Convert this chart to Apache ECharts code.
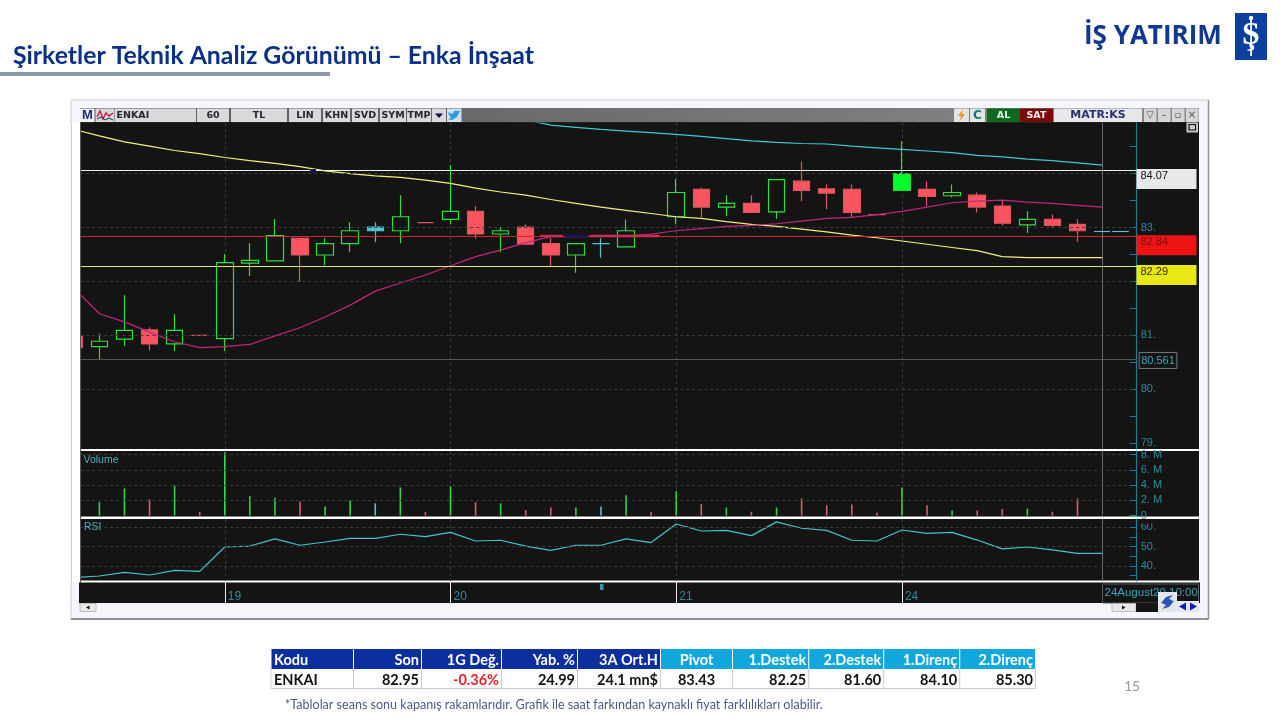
<!DOCTYPE html>
<html><head><meta charset="utf-8">
<style>html,body{margin:0;padding:0;background:#fff}#c{width:1280px;height:720px}</style>
<script src="https://cdn.jsdelivr.net/npm/echarts@6/dist/echarts.min.js"></script>
</head><body><div id="c"></div>
<script>
// ---------- data ----------
const dayLabels = {6:'19',15:'20',24:'21',33:'24'};
const categories = Array.from({length:46},(_,k)=>dayLabels[k]||'');
const candleOpen  = [81.00,80.79,80.93,81.10,80.84,81.00,80.94,82.34,82.38,82.80,82.49,82.70,82.94,82.94,83.09,83.15,83.30,82.88,83.01,82.70,82.49,82.70,82.64,82.85,83.20,83.71,83.38,83.45,83.29,83.86,83.72,83.71,83.24,83.69,83.71,83.59,83.60,83.40,83.05,83.15,83.06];
const candleClose = [80.77,80.89,81.09,80.84,81.09,81.00,82.35,82.39,82.85,82.49,82.70,82.94,83.01,83.20,83.09,83.30,82.88,82.94,82.69,82.49,82.70,82.70,82.94,82.85,83.65,83.38,83.45,83.28,83.89,83.69,83.64,83.28,83.24,84.00,83.58,83.65,83.38,83.08,83.15,83.04,82.94];
const candleLow   = [80.77,80.55,80.80,80.72,80.71,81.00,80.71,82.10,82.38,81.99,82.30,82.54,82.73,82.71,83.09,83.06,82.79,82.54,82.69,82.28,82.16,82.44,82.64,82.85,83.06,83.19,83.21,83.28,83.16,83.49,83.34,83.19,83.24,83.69,83.40,83.56,83.28,83.04,82.90,82.99,82.73];
const candleHigh  = [81.00,81.03,81.75,81.15,81.39,81.00,82.51,82.71,83.16,82.80,82.80,83.10,83.10,83.60,83.09,84.16,83.40,83.01,83.06,82.81,82.70,82.80,83.15,82.85,83.90,83.74,83.60,83.60,83.89,84.22,83.80,83.80,83.24,84.60,83.86,83.80,83.65,83.51,83.30,83.24,83.16];
const maYellow = [84.82,84.70,84.59,84.51,84.43,84.37,84.30,84.24,84.19,84.13,84.05,84.00,83.96,83.93,83.88,83.82,83.73,83.66,83.60,83.52,83.45,83.38,83.32,83.26,83.20,83.17,83.11,83.06,83.02,82.97,82.92,82.86,82.81,82.75,82.69,82.63,82.57,82.46,82.44,82.44,82.44,82.44];
const maPink   = [81.87,81.40,81.25,81.06,80.88,80.77,80.79,80.83,80.99,81.14,81.34,81.56,81.82,81.97,82.12,82.29,82.46,82.58,82.72,82.83,82.83,82.84,82.84,82.88,82.94,82.98,83.02,83.04,83.07,83.12,83.17,83.19,83.24,83.30,83.38,83.46,83.49,83.51,83.47,83.45,83.41,83.38];
const maCyan   = [null,null,null,null,null,null,null,null,null,null,null,null,null,null,null,null,null,null,85.00,84.90,84.86,84.82,84.79,84.76,84.73,84.69,84.65,84.61,84.58,84.56,84.55,84.51,84.48,84.45,84.42,84.39,84.34,84.31,84.27,84.24,84.20,84.16];
const volumeM  = [null,1.75,3.55,2.1,3.95,0.5,8.3,2.55,2.35,1.85,1.2,2.0,1.6,3.7,0.45,3.85,1.75,1.6,0.7,1.05,1.05,1.2,2.65,0.45,3.2,1.5,1.05,0.5,1.05,2.25,1.35,1.45,0.35,3.7,1.35,0.65,0.65,0.85,0.9,0.5,2.25];
const rsiValues = [33.9,34.8,36.7,35.3,37.7,37.2,49.8,50.3,54.0,50.7,52.4,54.3,54.3,56.4,55.2,57.4,52.9,53.3,50.3,48.1,50.7,50.7,54.0,52.1,61.7,58.1,58.4,55.7,62.8,59.5,58.4,53.3,52.9,58.6,56.9,57.4,53.4,48.8,49.8,48.3,46.5,46.5];
const cyanCandles = [12,21];
const solidGreenCandles = [33];
const priceTicks = [79,79.5,80,80.5,81,81.5,82,82.5,83,83.5,84,84.5];
const priceLabels = [79,80,81,83];
const priceGuides = [80,81,82,83,84];
const volumeTicks = [0,2,4,6,8];
const rsiTicks = [35,40,45,50,55,60];
const rsiLabels = [40,50,60];
const levelLast = 84.07, levelRed = 82.84, levelYellow = 82.29, levelGray = 80.561, lastPrice = 82.94;
const tableHeaders = ['Kodu','Son','1G Değ.','Yab. %','3A Ort.H','Pivot','1.Destek','2.Destek','1.Direnç','2.Direnç'];
const tableRow = ['ENKAI','82.95','-0.36%','24.99','24.1 mn$','83.43','82.25','81.60','84.10','85.30'];
const titleText = 'Şirketler Teknik Analiz Görünümü – Enka İnşaat';
const footnote = '*Tablolar seans sonu kapanış rakamlarıdır. Grafik ile saat farkından kaynaklı fiyat farklılıkları olabilir.';

// ---------- layout ----------
const GL=74.3, STEP=25.08, GW=STEP*45, AXISX=1136.7, AXK=(AXISX-GL)/STEP;
const BG='#141414', GREEN='#2fe03a', RED='#f9545f', RED2='#e0565c', CY='#4fc6d2', TEAL='#2d8ba0', AXC='#1d7f90', DASH='#3d3d3d';
const colX=[271,353.5,421.5,501.5,577.5,660.5,732.5,808.7,883.7,959.7,1035.5];

const R=(x,y,w,h,fill,z,extra)=>Object.assign({type:'rect',z:z||0,silent:true,shape:{x,y,width:w,height:h},style:{fill}},extra||{});
const T=(text,x,y,font,fill,align,z)=>({type:'text',z:z||1,silent:true,style:{text,x,y,font,fill,align:align||'left',verticalAlign:'middle',textAlign:align||'left',textVerticalAlign:'middle'}});
const L=(x1,y1,x2,y2,stroke,w,z)=>({type:'line',z:z||1,silent:true,shape:{x1,y1,x2,y2},style:{stroke,lineWidth:w||1}});

const under=[], over=[];
// page + window
under.push(R(0,0,1280,720,'#ffffff',-20));
under.push(T(titleText,13,56,'bold 24.8px Lato','#0a3187','left',-10));
under.push(R(0,72,330,4,'#8a97a8',-10));
under.push(T('İŞ YATIRIM',1084,36.5,'bold 26px "Open Sans"','#10398f','left',-10));
under.push(R(1235,13,32,47,'#0d3f9f',-10));
under.push(T('Ş',1251,36,'bold 32px "Liberation Serif"','#ffffff','center',-9));
under.push(R(1250.2,20,1.8,36,'#ffffff',-9));
under.push({type:'circle',z:-9,silent:true,shape:{cx:1251,cy:18,r:2.2},style:{fill:'#ffffff'}});
under.push(R(71,100,1137.5,519.5,'#f4f6fb',-15,{style:{fill:'#f4f6fb',stroke:'#c9ccd2',lineWidth:1}}));
under.push(L(71,619,1208.5,619,'#8f9399',2,-14));
under.push(L(1208.5,100,1208.5,619,'#8f9399',1.5,-14));
// panels
under.push(R(79.5,122,1120,461,'#ffffff',-13));
under.push(R(81,123,1118,326,BG,-12));
under.push(R(81,451,1118,65.5,BG,-12));
under.push(R(81,519,1118,61.5,BG,-12));
under.push(R(79,582.5,1121,20.5,BG,-12));
// toolbar
under.push(R(80,108,1119,14.5,'#6a6a6a',-12,{style:{fill:new echarts.graphic.LinearGradient(0,0,1,0,[{offset:0,color:'#585858'},{offset:1,color:'#8a8a8a'}])}}));
under.push(L(80,122.5,1199,122.5,'#222222',1,-11));
const tbF='bold 9.5px "DejaVu Sans"', tbC='#23262b';
[[115,81,'ENKAI','left'],[197,32,'60','center'],[231,56,'TL','center'],[289,32,'LIN','center'],[323,27,'KHN','center'],[352,26,'SVD','center'],[380,26,'SYM','center'],[407,24,'TMP','center']].forEach(b=>{
  under.push(R(b[0],108.5,b[1],13.5,'#d9d9dc',-10));
  under.push(T(b[2],b[3]==='left'?b[0]+1.5:b[0]+b[1]/2,115.5,tbF,tbC,b[3],-9));
});
under.push(R(80,108.5,14.5,13.5,'#f2f2f6',-10));
under.push(T('M',87.3,115.5,'bold 13px "Liberation Sans"','#1b2a7a','center',-9));
under.push(R(95.5,108.5,19,13.5,'#d9d9dc',-10));
under.push({type:'polyline',z:-9,silent:true,shape:{points:[[97,117],[100,111],[103,119],[106,113],[109,116],[113,113]]},style:{stroke:'#c8202a',fill:'none',lineWidth:1.4}});
under.push({type:'polyline',z:-9,silent:true,shape:{points:[[97,119],[101,117],[105,120],[109,118],[113,120]]},style:{stroke:'#1b2a7a',fill:'none',lineWidth:1}});
under.push(R(432,108.5,14,13.5,'#d9d9dc',-10));
under.push({type:'polygon',z:-9,silent:true,shape:{points:[[435,113.5],[443,113.5],[439,118]]},style:{fill:'#10103a'}});
under.push(R(447,108.5,14.5,13.5,'#cfe3ef',-10));
under.push({type:'polygon',z:-9,silent:true,shape:{points:[[448,112],[452,114],[455,110.5],[459,111],[460.5,110.5],[459,113],[457,117],[452,120],[448,119.5],[451,118],[449,115]]},style:{fill:'#2f9ee0'}});
under.push(R(954,108.5,15,13.5,'#e4e4e4',-10));
under.push({type:'polygon',z:-9,silent:true,shape:{points:[[963,109.5],[958,116],[961,116],[959.5,121],[965,114],[962,114]]},style:{fill:'#e69a15'}});
under.push(R(970,108.5,15,13.5,'#dfe8e6',-10));
under.push(T('C',977.5,115.5,'bold 12px "DejaVu Sans"','#0d7a68','center',-9));
under.push(R(987,108.5,33,13.5,'#0c6a1f',-10));
under.push(T('AL',1003.5,115.5,'bold 9.5px "DejaVu Sans"','#e8f5e8','center',-9));
under.push(R(1020,108.5,33,13.5,'#7d0a0a',-10));
under.push(T('SAT',1036.5,115.5,'bold 9.5px "DejaVu Sans"','#f8e8e8','center',-9));
under.push(R(1054,108.5,88,13.5,'#e8e8ea',-10));
under.push(T('MATR:KS',1098,115.5,'bold 11px "DejaVu Sans"','#26306e','center',-9));
[1144,1158,1172,1186].forEach((x,i)=>{
  under.push(R(x,108.5,12.5,13.5,'#d4d6d8',-10));
  under.push(T(['▽','–','▫','×'][i],x+6,115.5,'10px "DejaVu Sans"','#555','center',-9));
});
// covers and pieces above the plots
over.push(R(60,123,20.5,459,'#ffffff',50));
over.push(L(71.5,123,71.5,582,'#c9ccd2',1,51));
over.push(L(80.5,122,80.5,583,'#555555',1,51));
over.push(R(1139,519,24,4.5,BG,50));
over.push(R(1186.5,122.5,11.5,10,'#c8c8c8',52));
over.push(R(1189,124.5,6.5,5.5,'#c8c8c8',53,{style:{fill:'#c8c8c8',stroke:'#111',lineWidth:1.2}}));
// date strip
over.push(R(600,584,3.5,6,'#2b98b0',50));
over.push(R(1102.5,584,96,19,'none',50,{style:{fill:'none',stroke:'#4b5a60',lineWidth:1}}));
over.push(T('24August20 10:00',1104.5,593,'11.5px "Liberation Sans"','#3ba6ba','left',51));
// scrollbars
over.push(R(80,603.5,16,8,'#e9e9ea',50,{style:{fill:'#e9e9ea',stroke:'#a8a8a8',lineWidth:.7}}));
over.push({type:'polygon',z:51,silent:true,shape:{points:[[89.5,605.5],[86,607.5],[89.5,609.5]]},style:{fill:'#111'}});
over.push(R(1112,603.5,24,8,'#e9e9ea',50,{style:{fill:'#e9e9ea',stroke:'#a8a8a8',lineWidth:.7}}));
over.push({type:'polygon',z:51,silent:true,shape:{points:[[1122,605.5],[1125.5,607.5],[1122,609.5]]},style:{fill:'#111'}});
over.push(R(1136,603,23,9,'#141414',50));
over.push(R(1158,592,19,20,'#e4e6ec',52));
over.push({type:'polygon',z:53,silent:true,shape:{points:[[1161,603],[1166,597],[1173,595],[1169,599],[1172,600],[1165,604]]},style:{fill:'#2a55b5'}});
over.push({type:'polygon',z:53,silent:true,shape:{points:[[1174,601],[1169,607],[1162,609],[1166,605],[1163,604],[1170,600]]},style:{fill:'#2a55b5'}});
over.push(R(1177,601,22,11,'#e4e6ec',52));
over.push({type:'polygon',z:53,silent:true,shape:{points:[[1186,602.5],[1179,606.5],[1186,610.5]]},style:{fill:'#0d1fb5'}});
over.push({type:'polygon',z:53,silent:true,shape:{points:[[1190,602.5],[1197,606.5],[1190,610.5]]},style:{fill:'#0d1fb5'}});
over.push(T('Volume',83.5,460,'10.5px "Liberation Sans"','#48b5bf','left',51));
over.push(T('RSI',84,527.5,'10.5px "Liberation Sans"','#48b5bf','left',51));
// table
tableHeaders.forEach((h,i)=>{
  const x=colX[i], w=colX[i+1]-x, cx=x+w/2, rx=colX[i+1]-2.5;
  under.push(R(x+.5,649,w-1,20,i<5?'#0b2f9e':'#10a8dc',-10));
  const leftAlign=i===0, centered=i===5;
  const hx=leftAlign?x+3:centered?cx:rx, a=leftAlign?'left':centered?'center':'right';
  under.push(T(h,hx,660,'bold 14.5px Lato','#ffffff',a,-9));
  under.push(T(tableRow[i],hx,680,'bold 14.5px Lato',i===2?'#e3222a':'#111111',a,-9));
  under.push(L(x,669,x,688.5,'#c9ccd0',1,-9));
});
under.push(L(1035.5,669,1035.5,688.5,'#c9ccd0',1,-9));
under.push(L(271,688.5,1035.5,688.5,'#c9ccd0',1,-9));
under.push(T(footnote,285,704.5,'12.55px Lato','#4a5a80','left',-9));
under.push(T('15',1132,686,'14px Lato','#9a9a9a','center',-9));

// ---------- series pieces ----------
const candleData = candleOpen.map((o,k)=>{
  const item={value:[o,candleClose[k],candleLow[k],candleHigh[k]]};
  if(cyanCandles.includes(k)) item.itemStyle={color:CY,color0:CY,borderColor:CY,borderColor0:CY,borderColorDoji:CY};
  if(solidGreenCandles.includes(k)) item.itemStyle={color:'#00ff2a',borderColor:'#22dd33'};
  return item;
});
const volColor = k=>cyanCandles.includes(k)?CY:(candleClose[k]>candleOpen[k]?'#35d543':'#d9606a');
const volumeData = volumeM.map((v,k)=>({value:v,itemStyle:{color:volColor(k)}}));
const seg=(x1,x2,y,color,width,type)=>[{xAxis:x1,yAxis:y,lineStyle:{color,width,type:type||'solid'}},{xAxis:x2,yAxis:y}];
const markBase={silent:true,symbol:'none',animation:false,label:{show:false},emphasis:{disabled:true}};
const vLine={xAxis:41,lineStyle:{color:'#6a6a6a',width:1,type:'solid'}};
const dashed=(list,xAx)=>list.map(v=>seg(0,xAx,v,DASH,1,[3,3]));

const levelSeries={type:'line',xAxisIndex:3,yAxisIndex:0,z:2,data:[],showSymbol:false,markLine:Object.assign({},markBase,{data:[
  ...priceGuides.map(v=>seg(0,AXK,v,DASH,1,[3,3])),
  seg(0,AXK,levelGray,'#555555',1),
  seg(0,AXK,levelLast,'#f0f0f0',1.2),
  seg(0,AXK,levelRed,'#c92a2a',1.1),
  seg(0,AXK,levelYellow,'#e4e46a',1.1)
]})};
const overlaySeries={type:'line',xAxisIndex:3,yAxisIndex:0,z:6,data:[],showSymbol:false,markLine:Object.assign({},markBase,{data:[
  seg(18.57,19.48,levelRed,'#cf2a55',2.4),
  seg(20.56,23.27,levelRed,'#cf2a55',2.4),
  seg(19.56,20.47,levelRed,'#15155a',2.4),
  seg(9.4,9.64,levelLast,'#15155a',3),
  seg(40.66,41.3,lastPrice,CY,1.1),
  seg(41.38,42.05,lastPrice,CY,1.1)
]})};
const tagBase={color:'#111',fontSize:11,fontFamily:'"Liberation Sans"',lineHeight:14,align:'left',verticalAlign:'top',width:56,height:20,padding:[0,0,0,4],opacity:1};
const tagData=[
  {value:[AXK,levelLast],label:Object.assign({},tagBase,{show:true,position:[.3,-.3],formatter:'84.07',backgroundColor:'#e8e8e8',color:'#111'})},
  {value:[AXK,levelRed],label:Object.assign({},tagBase,{show:true,position:[.3,-.3],formatter:'82.84',backgroundColor:'#ee1414',color:'#7a1212'})},
  {value:[AXK,levelYellow],label:Object.assign({},tagBase,{show:true,position:[.3,-.3],formatter:'82.29',backgroundColor:'#e8e812',color:'#2a2a10'})},
  {value:[AXK,levelGray],label:{show:true,position:[3,-6],formatter:'80.561',color:'#3ba6ba',fontSize:11,fontFamily:'"Liberation Sans"',borderColor:'#6d7c80',borderWidth:1,padding:[3,2,2,2],align:'left',verticalAlign:'top',opacity:1}}
];
const tagSeries={type:'scatter',xAxisIndex:3,yAxisIndex:0,z:7,symbolSize:1,itemStyle:{color:'rgba(0,0,0,0)',opacity:1},data:tagData,silent:true,clip:false};

const lineS=(data,color,z,xi,yi,w)=>({type:'line',data,xAxisIndex:xi,yAxisIndex:yi,z:z,showSymbol:false,symbol:'none',connectNulls:false,smooth:false,silent:true,lineStyle:{color,width:w||1.1},clip:true});

const dayIdx=(i)=>!!dayLabels[i];
const catAxis=(gridIndex,isBottom)=>({type:'category',gridIndex,data:categories,boundaryGap:false,
  axisLine:{show:false},
  axisTick:isBottom?{show:true,interval:(i)=>dayIdx(i),length:22,lineStyle:{color:'#e8e8e8',width:1}}:{show:false},
  axisLabel:isBottom?{show:true,interval:0,color:'#2d8ba0',fontSize:12,fontFamily:'"Liberation Sans"',align:'left',margin:10,padding:[0,0,0,3],formatter:v=>v}:{show:false},
  splitLine:{show:true,interval:(i)=>dayIdx(i),lineStyle:{color:'#3d3d3d',type:[3,3],width:1}}});
const valAxis=(gridIndex,min,max,ticks,labels,fmt)=>({type:'value',gridIndex,position:'right',offset:-(GL+GW-AXISX),min,max,scale:true,
  axisLine:{show:true,onZero:false,lineStyle:{color:AXC,width:1.2}},
  axisTick:{show:true,inside:true,length:7,customValues:ticks,lineStyle:{color:AXC,width:1}},
  axisLabel:{show:true,customValues:labels,formatter:fmt,color:TEAL,fontSize:11,fontFamily:'"Liberation Sans"',margin:4,hideOverlap:false,showMinLabel:true,showMaxLabel:true},
  splitLine:{show:false}});

const option={
  animation:false,
  backgroundColor:'#ffffff',
  textStyle:{fontFamily:'"Liberation Sans"'},
  graphic:{elements:[...under,...over]},
  grid:[
    {left:GL,width:GW,top:123,height:326,outerBoundsMode:'none'},
    {left:GL,width:GW,top:451,height:64.5,outerBoundsMode:'none'},
    {left:GL,width:GW,top:519,height:62,outerBoundsMode:'none'}
  ],
  xAxis:[catAxis(0),catAxis(1),catAxis(2,true),{type:'value',gridIndex:0,min:0,max:45,show:false}],
  yAxis:[
    valAxis(0,78.89,84.94,priceTicks,priceLabels,v=>v+'.'),
    valAxis(1,0,8.49,volumeTicks,volumeTicks,v=>v===0?'0':v+'. M'),
    valAxis(2,32.2,64.3,rsiTicks,rsiLabels,v=>v+'.')
  ],
  series:[
    levelSeries,
    {type:'line',xAxisIndex:0,yAxisIndex:0,z:2,data:[],markLine:Object.assign({},markBase,{data:[vLine]})},
    {name:'ENKAI',type:'candlestick',xAxisIndex:0,yAxisIndex:0,z:3,barWidth:17,silent:true,data:candleData,clip:true,
      itemStyle:{color:BG,color0:RED,borderColor:GREEN,borderColor0:RED2,borderColorDoji:RED2,borderWidth:1.2}},
    Object.assign(lineS(maYellow,'#f2f27a',4,0,0,1.2),{name:'MA Yellow'}),
    Object.assign(lineS(maPink,'#c6257f',4,0,0,1.2),{name:'MA Pink'}),
    Object.assign(lineS(maCyan,'#3fc9d4',4,0,0,1.2),{name:'MA Cyan'}),
    overlaySeries,
    tagSeries,
    {name:'Volume',type:'bar',xAxisIndex:1,yAxisIndex:1,z:3,barWidth:1.6,silent:true,data:volumeData},
    {type:'line',xAxisIndex:1,yAxisIndex:1,z:2,data:[],markLine:Object.assign({},markBase,{data:[vLine,...dashed([2,4,6,8],42)]})},
    {name:'RSI',type:'line',xAxisIndex:2,yAxisIndex:2,z:4,data:rsiValues,showSymbol:false,symbol:'none',silent:true,lineStyle:{color:'#44c4cc',width:1.2}},
    {type:'line',xAxisIndex:2,yAxisIndex:2,z:2,data:[],markLine:Object.assign({},markBase,{data:[vLine,...dashed([40,50,60],42)]})}
  ]
};
const chart=echarts.init(document.getElementById('c'),null,{width:1280,height:720});
chart.setOption(option);
</script></body></html>
